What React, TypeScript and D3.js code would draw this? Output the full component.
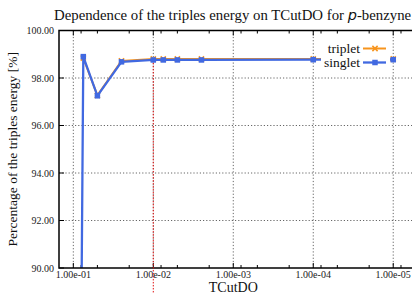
import React from 'react';
import * as d3 from 'd3';

// constants
const width = 412;
const height = 293;
const margin = { top: 30.5, right: -2, bottom: 25, left: 59 };
const plotW = width - margin.left - margin.right;
const plotH = height - margin.top - margin.bottom;

// data
const tcut = [0.1, 0.075, 0.05, 0.025, 0.01, 0.0075, 0.005, 0.0025, 0.0001, 0.00001];
const singlet = [43, 98.9, 97.25, 98.68, 98.76, 98.76, 98.76, 98.76, 98.77, 98.77];
const triplet = [null, 98.84, 97.27, 98.72, 98.8, 98.8, 98.8, 98.8, 98.8, 98.8];
const xTicks = [1e-1, 1e-2, 1e-3, 1e-4, 1e-5];
const xTickLabels = ['1.00e-01', '1.00e-02', '1.00e-03', '1.00e-04', '1.00e-05'];
const yTicks = [90, 92, 94, 96, 98, 100];
const minorMult = [8, 5, 2];
const highlightX = 0.01;

const orange = '#f7941d';
const blue = '#4169e1';
const serif = "'Liberation Serif', 'DejaVu Serif', serif";

const App = () => {
  // scales
  const xScale = d3.scaleLog().domain([0.151, 5.5e-6]).range([0, plotW]);
  const yScale = d3.scaleLinear().domain([90, 100]).range([plotH, 0]);

  const minorTicks: number[] = [];
  [1e-1, 1e-2, 1e-3, 1e-4, 1e-5, 1e-6].forEach(d => {
    minorMult.forEach(m => {
      const v = (d / 10) * m;
      const x = xScale(v);
      if (x > 0 && x < plotW) minorTicks.push(v);
    });
  });

  const line = d3.line<[number, number | null]>()
    .defined(d => d[1] !== null)
    .x(d => xScale(d[0]))
    .y(d => yScale(d[1] as number));

  const sPts = tcut.map((t, i) => [t, singlet[i]] as [number, number | null]);
  const tPts = tcut.map((t, i) => [t, triplet[i]] as [number, number | null]);

  const sq = 5.5;
  const xm = 2.6;
  // legend anchor (text right edge), plot coords
  const lx = 301;
  const ly = 18;

  const cross = (cx: number, cy: number) =>
    `M${cx - xm},${cy - xm}L${cx + xm},${cy + xm}M${cx - xm},${cy + xm}L${cx + xm},${cy - xm}`;

  return (
    <svg width={width} height={height} style={{ position: 'absolute', left: 0, top: 0, background: '#fff' }}>
      <defs>
        <clipPath id="plotClip">
          <rect x={0} y={0} width={plotW} height={plotH} />
        </clipPath>
      </defs>
      <text x={54} y={20} fontFamily={serif} fontSize={14.8} fill="#111">
        Dependence of the triples energy on TCutDO for{' '}
        <tspan fontFamily="'DejaVu Sans', sans-serif" fontStyle="italic" fontSize={14.5}>p</tspan>-benzyne
      </text>
      <g transform={`translate(${margin.left},${margin.top})`}>
        {/* grid */}
        {xTicks.map(t => (
          <line key={'gx' + t} x1={xScale(t)} x2={xScale(t)} y1={0} y2={plotH}
            stroke="#666" strokeWidth={1} strokeDasharray="1.2,2" />
        ))}
        {yTicks.slice(1, -1).map(t => (
          <line key={'gy' + t} x1={0} x2={plotW} y1={yScale(t)} y2={yScale(t)}
            stroke="#666" strokeWidth={1} strokeDasharray="1.2,2" />
        ))}
        {/* ticks */}
        {xTicks.map(t => (
          <g key={'tx' + t}>
            <line x1={xScale(t)} x2={xScale(t)} y1={plotH} y2={plotH - 5} stroke="#000" />
            <line x1={xScale(t)} x2={xScale(t)} y1={0} y2={5} stroke="#000" />
          </g>
        ))}
        {minorTicks.map(t => (
          <g key={'mx' + t}>
            <line x1={xScale(t)} x2={xScale(t)} y1={plotH} y2={plotH - 3} stroke="#000" />
            <line x1={xScale(t)} x2={xScale(t)} y1={0} y2={3} stroke="#000" />
          </g>
        ))}
        {yTicks.map(t => (
          <line key={'ty' + t} x1={0} x2={5} y1={yScale(t)} y2={yScale(t)} stroke="#000" />
        ))}
        {/* data */}
        <g clipPath="url(#plotClip)">
          <path d={line(tPts) || ''} fill="none" stroke={orange} strokeWidth={2} />
          {tPts.filter(d => d[1] !== null).map(d => (
            <path key={'tm' + d[0]} d={cross(xScale(d[0]), yScale(d[1] as number))}
              stroke={orange} strokeWidth={1.5} />
          ))}
          <path d={line(sPts) || ''} fill="none" stroke={blue} strokeWidth={2.3} />
          {sPts.map(d => (
            <rect key={'sm' + d[0]} x={xScale(d[0]) - sq / 2} y={yScale(d[1] as number) - sq / 2}
              width={sq} height={sq} fill={blue} />
          ))}
        </g>
        {/* frame */}
        <rect x={0} y={0} width={plotW} height={plotH} fill="none" stroke="#000" strokeWidth={1.5} />
        {/* y labels */}
        {yTicks.map(t => (
          <text key={'yl' + t} x={-5} y={yScale(t)} dy="0.35em" textAnchor="end"
            fontFamily={serif} fontSize={10} fill="#222">{d3.format('.2f')(t)}</text>
        ))}
        {/* x labels */}
        {xTicks.map((t, i) => (
          <text key={'xl' + t} x={xScale(t)} y={plotH + 9.5} textAnchor="middle"
            fontFamily={serif} fontSize={10} fill="#222">{xTickLabels[i]}</text>
        ))}
        {/* legend (opaque key box) */}
        <rect x={lx - 39} y={ly - 8} width={69} height={30} fill="#fff" />
        <text x={lx} y={ly} dy="0.35em" textAnchor="end" fontFamily={serif} fontSize={13.5} fill="#111">triplet</text>
        <line x1={lx + 3} x2={lx + 26} y1={ly} y2={ly} stroke={orange} strokeWidth={2} />
        <path d={cross(lx + 15, ly)} stroke={orange} strokeWidth={1.5} />
        <text x={lx} y={ly + 14} dy="0.35em" textAnchor="end" fontFamily={serif} fontSize={13.5} fill="#111">singlet</text>
        <line x1={lx + 3} x2={lx + 26} y1={ly + 14} y2={ly + 14} stroke={blue} strokeWidth={2.3} />
        <rect x={lx + 15 - sq / 2} y={ly + 14 - sq / 2} width={sq} height={sq} fill={blue} />
        {/* highlighted cutoff */}
        <line x1={xScale(highlightX)} x2={xScale(highlightX)}
          y1={yScale(singlet[tcut.indexOf(highlightX)]) + 3} y2={height - margin.top}
          stroke="#e01010" strokeWidth={1} strokeDasharray="1.5,1.5" />
        {/* axis title */}
        <text x={xScale(1e-3)} y={plotH + 23.5} textAnchor="middle" fontFamily={serif} fontSize={14} fill="#111">TCutDO</text>
      </g>
      <text transform={`translate(17,${margin.top + plotH / 2}) rotate(-90)`} textAnchor="middle"
        fontFamily={serif} fontSize={13.5} fill="#111">Percentage of the triples energy [%]</text>
    </svg>
  );
};

export default App;
